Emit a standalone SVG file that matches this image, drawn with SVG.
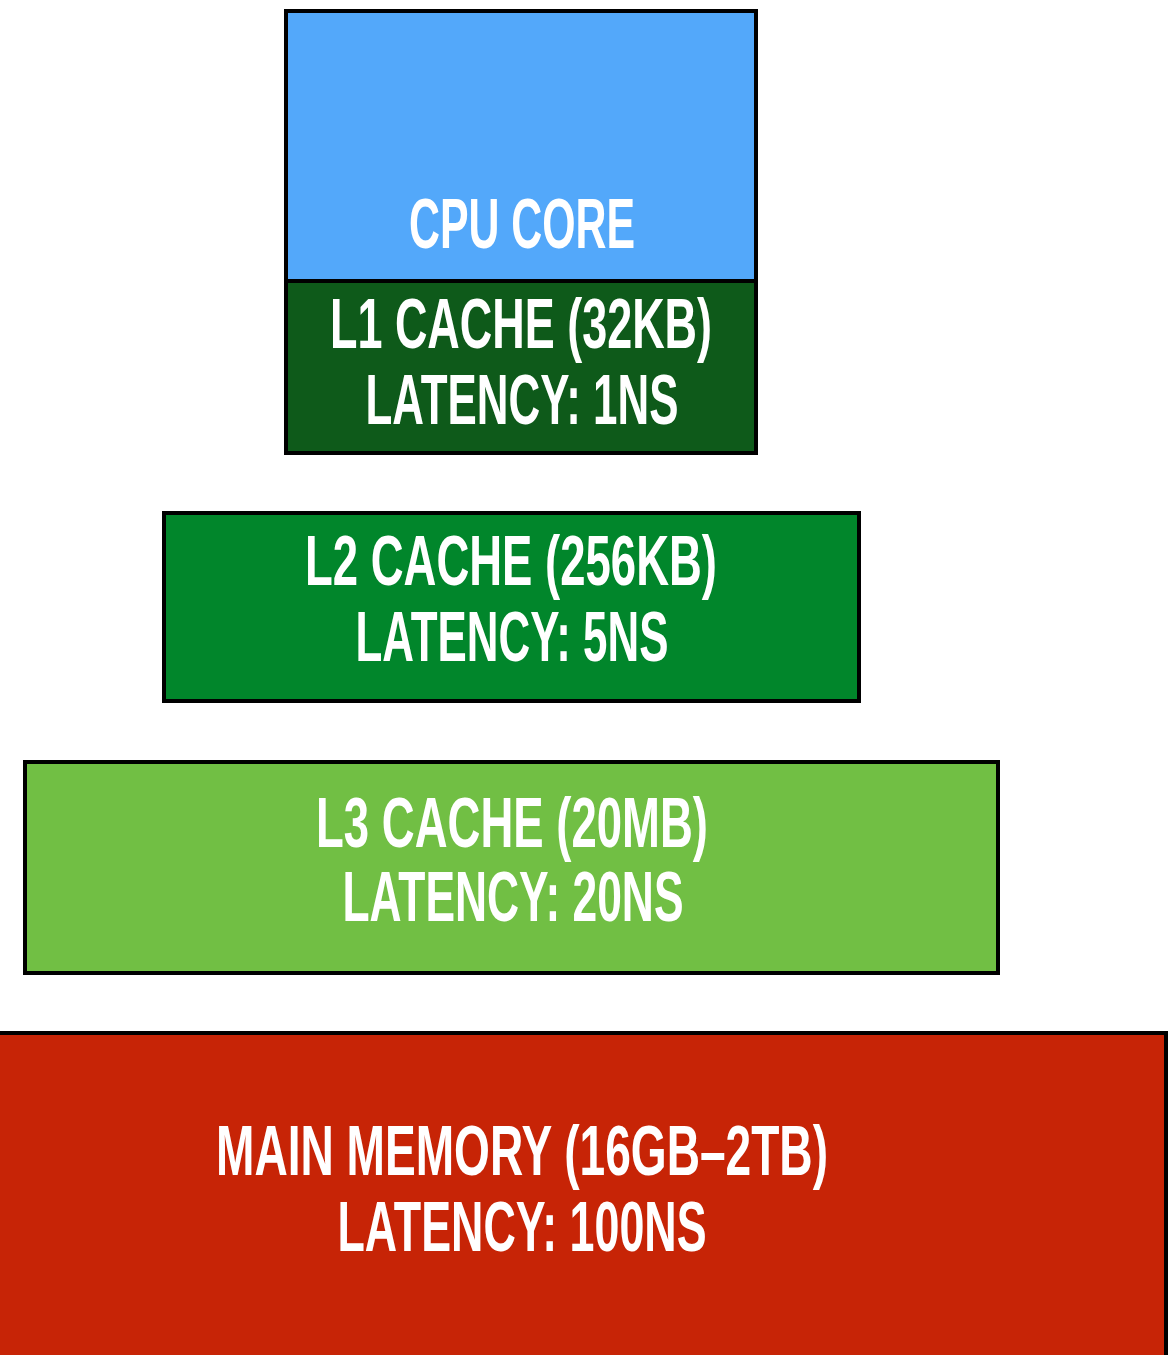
<svg xmlns="http://www.w3.org/2000/svg" width="1168" height="1355" viewBox="0 0 1168 1355">
<style>
.box{stroke:#000;stroke-width:4}
.t{font-family:"Liberation Sans",Arial,sans-serif;font-weight:bold;font-size:71px;fill:#fff;text-anchor:middle}
</style>
<rect width="1168" height="1355" fill="#fff"/>
<g id="cpu-core">
<rect class="box" x="286" y="11" width="470" height="270" fill="#53A8FA"/>
<text class="t" x="522" y="248" textLength="226" lengthAdjust="spacingAndGlyphs">CPU CORE</text>
</g>
<g id="l1-cache">
<rect class="box" x="286" y="281" width="470" height="172" fill="#0E5A1A"/>
<text class="t" x="521" y="348" textLength="382" lengthAdjust="spacingAndGlyphs">L1 CACHE (32KB)</text>
<text class="t" x="522" y="424" textLength="313" lengthAdjust="spacingAndGlyphs">LATENCY: 1NS</text>
</g>
<g id="l2-cache">
<rect class="box" x="164" y="513" width="695" height="188" fill="#01862B"/>
<text class="t" x="511" y="585" textLength="412" lengthAdjust="spacingAndGlyphs">L2 CACHE (256KB)</text>
<text class="t" x="512" y="661" textLength="313" lengthAdjust="spacingAndGlyphs">LATENCY: 5NS</text>
</g>
<g id="l3-cache">
<rect class="box" x="25" y="762" width="973" height="211" fill="#71BF44"/>
<text class="t" x="512" y="847" textLength="392" lengthAdjust="spacingAndGlyphs">L3 CACHE (20MB)</text>
<text class="t" x="513" y="921" textLength="341" lengthAdjust="spacingAndGlyphs">LATENCY: 20NS</text>
</g>
<g id="main-memory">
<rect class="box" x="-10" y="1033" width="1176" height="340" fill="#C72406"/>
<text class="t" x="522" y="1175" textLength="612" lengthAdjust="spacingAndGlyphs">MAIN MEMORY (16GB–2TB)</text>
<text class="t" x="522" y="1251" textLength="369" lengthAdjust="spacingAndGlyphs">LATENCY: 100NS</text>
</g>
<g id="connectors"/>
</svg>
